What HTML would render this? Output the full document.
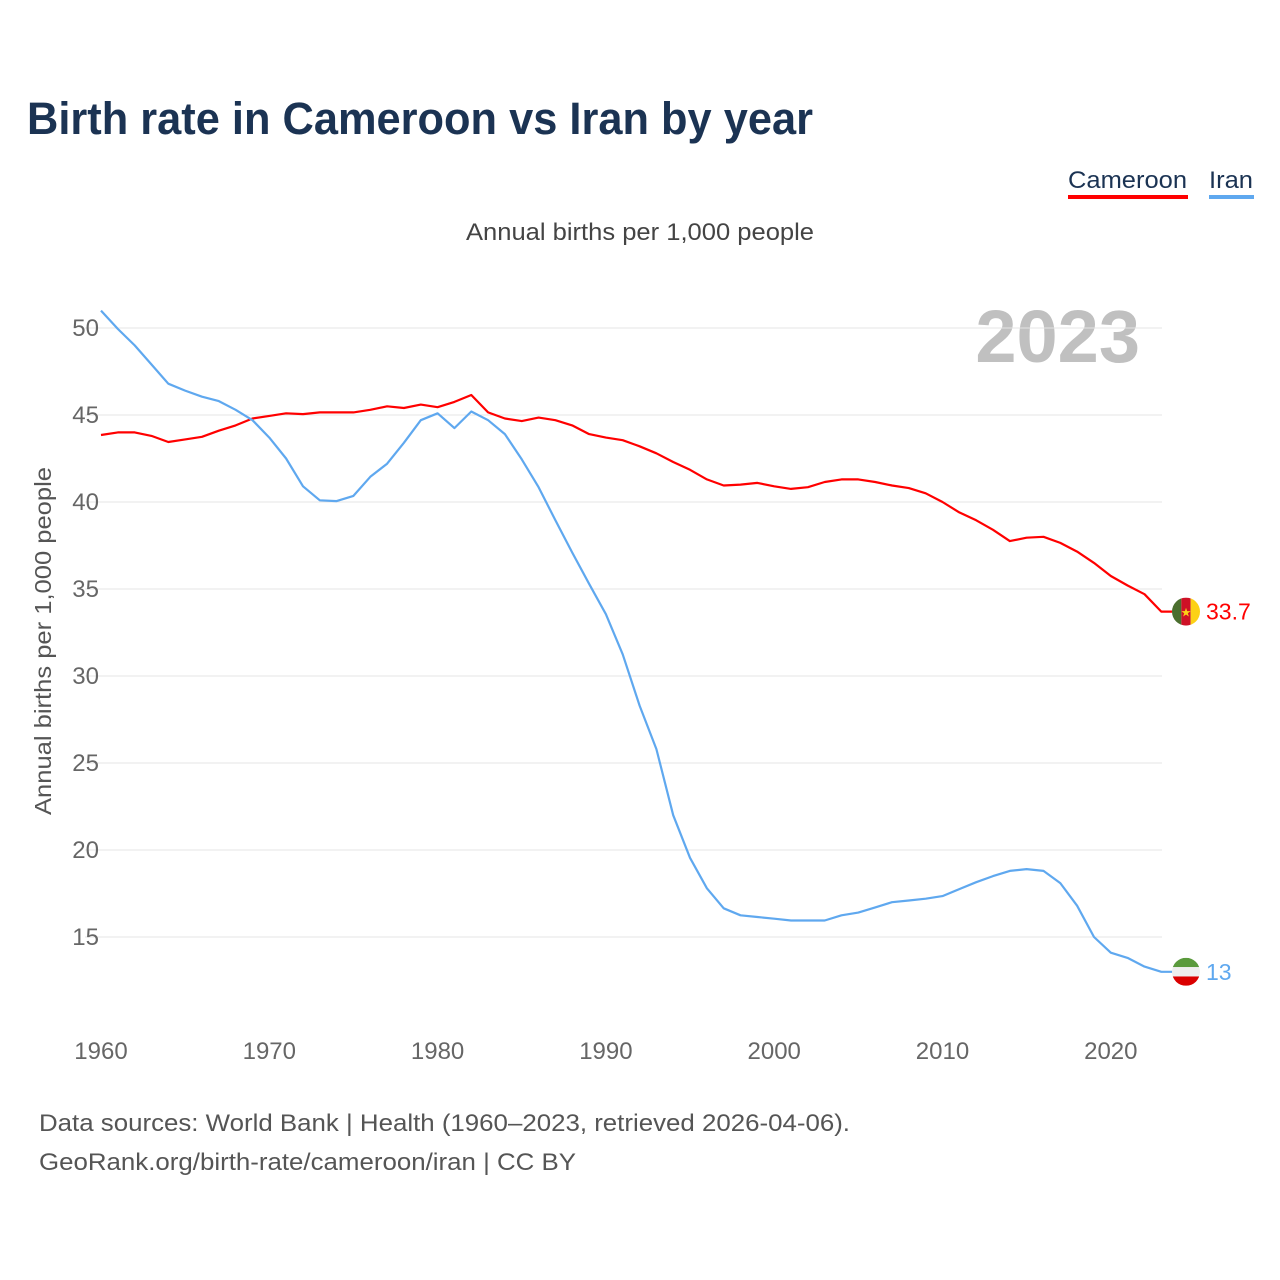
<!DOCTYPE html>
<html><head><meta charset="utf-8"><style>
body{margin:0;background:#fff;font-family:"Liberation Sans",sans-serif}
#wrap{position:relative;width:1280px;height:1280px;overflow:hidden}
</style></head><body>
<div id="wrap">
<svg id="chart" width="1280" height="1280">
<text x="27" y="134" font-size="45" font-weight="bold" fill="#1b3353" textLength="786" lengthAdjust="spacingAndGlyphs">Birth rate in Cameroon vs Iran by year</text>
<g><text x="1068" y="188" font-size="24" fill="#1b3353" textLength="119" lengthAdjust="spacingAndGlyphs">Cameroon</text><rect x="1068" y="195" width="120" height="4" fill="#ff0000"/></g>
<g><text x="1209" y="188" font-size="24" fill="#1b3353" textLength="44" lengthAdjust="spacingAndGlyphs">Iran</text><rect x="1209" y="195" width="45" height="4" fill="#5fa8ef"/></g>
<text x="466" y="240" font-size="24" fill="#444" textLength="348" lengthAdjust="spacingAndGlyphs">Annual births per 1,000 people</text>
<text x="1140" y="362" font-size="74" font-weight="bold" fill="#c0c0c0" text-anchor="end">2023</text>
<text transform="translate(51,815) rotate(-90)" font-size="23" fill="#555" textLength="348" lengthAdjust="spacingAndGlyphs">Annual births per 1,000 people</text>
<g id="grid"></g><g id="ylabels"></g><g id="xlabels"></g><g id="lines"></g><g id="ends"></g>
<text x="39" y="1131" font-size="24" fill="#555" textLength="811" lengthAdjust="spacingAndGlyphs">Data sources: World Bank | Health (1960–2023, retrieved 2026-04-06).</text>
<text x="39" y="1170" font-size="24" fill="#555" textLength="537" lengthAdjust="spacingAndGlyphs">GeoRank.org/birth-rate/cameroon/iran | CC BY</text>
</svg>
</div>
<script>
const years=[];for(let y=1960;y<=2023;y++)years.push(y);
const cameroon=[43.85,44.0,44.0,43.8,43.45,43.6,43.75,44.1,44.4,44.8,44.95,45.1,45.05,45.15,45.15,45.15,45.3,45.5,45.4,45.6,45.45,45.75,46.15,45.15,44.8,44.65,44.85,44.7,44.4,43.9,43.7,43.55,43.2,42.8,42.3,41.85,41.3,40.95,41.0,41.1,40.9,40.75,40.85,41.15,41.3,41.3,41.15,40.95,40.8,40.5,40.0,39.4,38.95,38.4,37.75,37.95,38.0,37.65,37.15,36.5,35.75,35.2,34.7,33.7];
const iran=[51.0,49.95,49.0,47.9,46.8,46.4,46.05,45.8,45.3,44.7,43.7,42.5,40.9,40.1,40.05,40.35,41.45,42.2,43.4,44.7,45.1,44.25,45.2,44.7,43.9,42.45,40.85,38.95,37.1,35.3,33.55,31.25,28.3,25.8,22.0,19.55,17.8,16.65,16.25,16.15,16.05,15.95,15.95,15.95,16.25,16.4,16.7,17.0,17.1,17.2,17.35,17.75,18.15,18.5,18.8,18.9,18.8,18.1,16.8,15.0,14.1,13.8,13.3,13.0];
const yTicks=[15,20,25,30,35,40,45,50];
const xTicks=[1960,1970,1980,1990,2000,2010,2020];
const endLabels=["33.7","13"];
const NS="http://www.w3.org/2000/svg";
const X=y=>101+(y-1960)*16.83;
const Y=v=>328+(50-v)*17.4;
function mk(t,a,p){const e=document.createElementNS(NS,t);for(const k in a)e.setAttribute(k,a[k]);document.getElementById(p).appendChild(e);return e;}
yTicks.forEach(v=>{
 const l=mk('line',{x1:85,x2:1162,y1:Y(v),y2:Y(v),stroke:'#e4e4e4','stroke-width':1},'grid');
 
 
 const t=mk('text',{x:99,y:Y(v)+8,'font-size':24,fill:'#666','text-anchor':'end'},'ylabels');t.textContent=v;
 
 
});
xTicks.forEach(v=>{
 const t=mk('text',{x:X(v),y:1059,'font-size':24,fill:'#666','text-anchor':'middle'},'xlabels');t.textContent=v;
 
 
});
function series(vals,color,name,idx){
 const d=vals.map((v,i)=>(i?'L':'M')+X(years[i]).toFixed(1)+' '+Y(v).toFixed(1)).join(' ');
 const p=mk('path',{d:d+' L'+(X(2023)+11)+' '+Y(vals[vals.length-1]).toFixed(1),fill:'none',stroke:color,'stroke-width':2.2,'stroke-linejoin':'round'},'lines');
 
 
 const yy=Y(vals[vals.length-1]);
 const g=mk('g',{},'ends');
 
 
 const cx=1186,r=14;
 const cp=document.createElementNS(NS,'clipPath');cp.setAttribute('id','cp'+idx);
 const cc=document.createElementNS(NS,'circle');cc.setAttribute('cx',cx);cc.setAttribute('cy',yy);cc.setAttribute('r',r);cp.appendChild(cc);g.appendChild(cp);
 const gg=document.createElementNS(NS,'g');gg.setAttribute('clip-path','url(#cp'+idx+')');g.appendChild(gg);
 const R=(x,y,w,h,f)=>{const e=document.createElementNS(NS,'rect');e.setAttribute('x',x);e.setAttribute('y',y);e.setAttribute('width',w);e.setAttribute('height',h);e.setAttribute('fill',f);gg.appendChild(e);};
 if(idx===0){R(cx-r,yy-r,r*2/3,2*r,'#4a6e2e');R(cx-r/3,yy-r,r*2/3,2*r,'#ce1126');R(cx+r/3,yy-r,r*2/3,2*r,'#fcd116');
  const s=document.createElementNS(NS,'text');s.setAttribute('x',cx);s.setAttribute('y',yy+5);s.setAttribute('font-size',12);s.setAttribute('fill','#fcd116');s.setAttribute('text-anchor','middle');s.textContent='★';gg.appendChild(s);}
 else{R(cx-r,yy-r,2*r,2*r/3,'#5a9a3c');R(cx-r,yy-r/3,2*r,2*r/3,'#eee');R(cx-r,yy+r/3,2*r,2*r/3,'#da0000');}
 const t=mk('text',{x:1206,y:yy+8,'font-size':23,fill:color},'ends');t.textContent=endLabels[idx];
 
 
}
series(cameroon,'#ff0000','cameroon',0);
series(iran,'#5fa8ef','iran',1);
</script>
</body></html>
